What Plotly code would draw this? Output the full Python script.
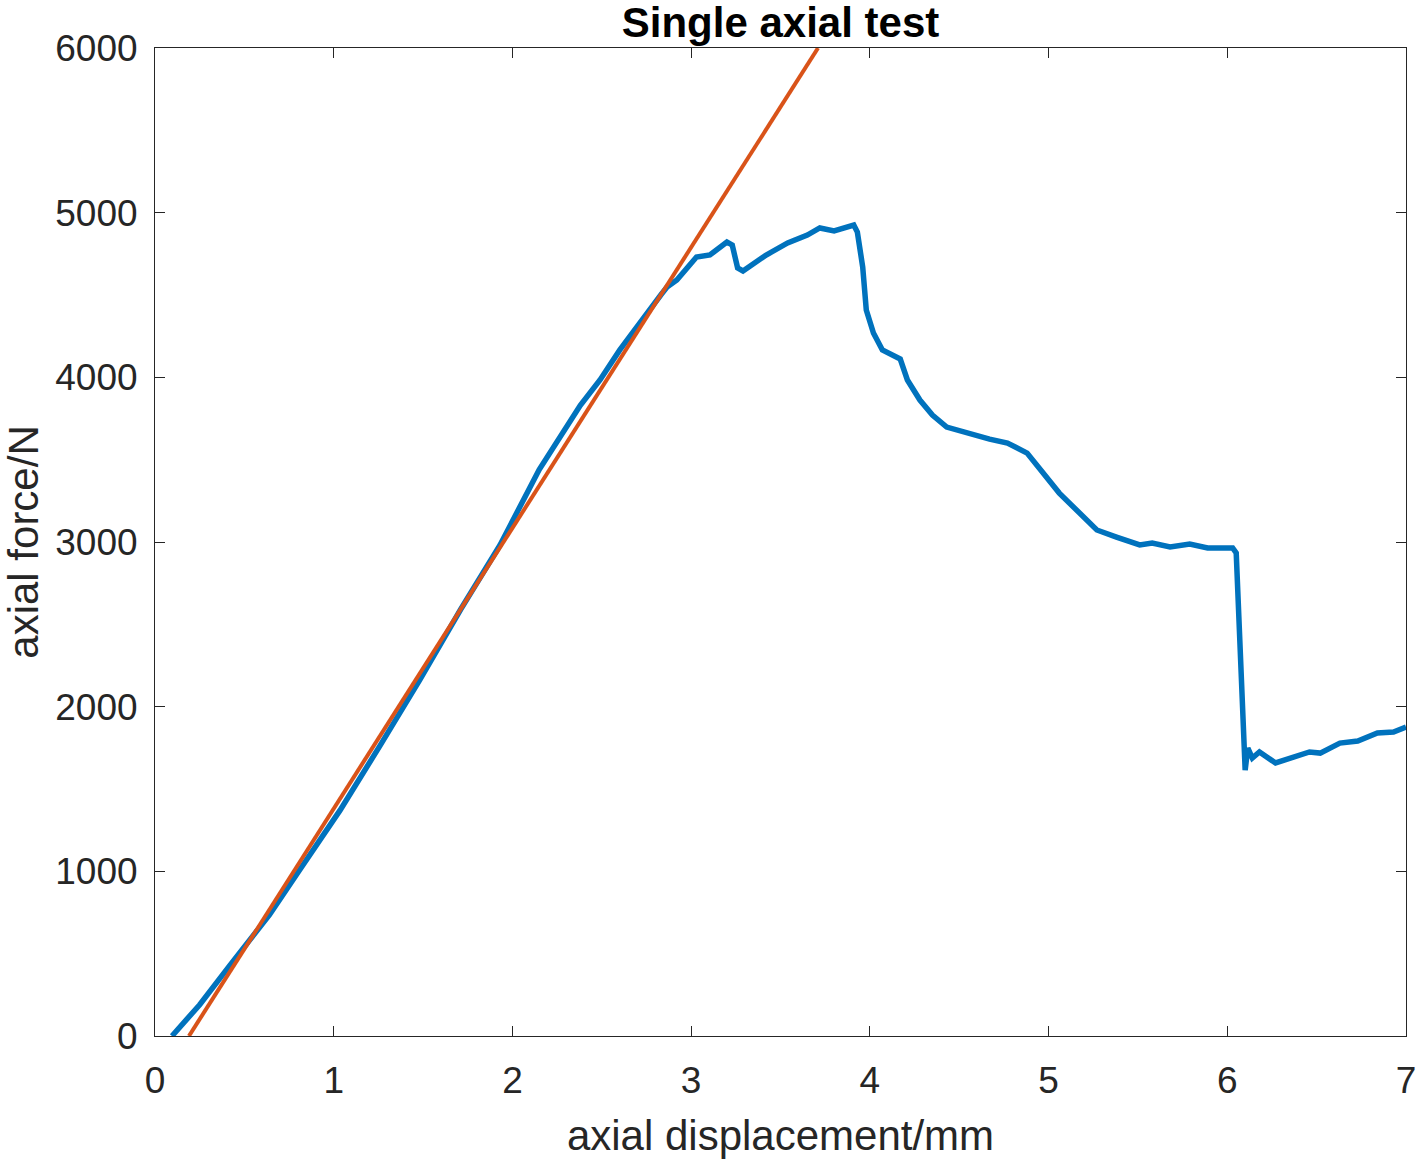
import plotly.graph_objects as go

# Experimental curve (axial displacement in mm, axial force in N)
disp = [0.095, 0.25, 0.42, 0.64, 0.81, 1.035, 1.26, 1.48, 1.71, 1.93, 2.15, 2.38, 2.49, 2.60,
        2.83, 2.865, 2.92, 3.03, 3.105, 3.20, 3.23, 3.26, 3.29, 3.42, 3.54, 3.65, 3.72, 3.80,
        3.91, 3.93, 3.96, 3.98, 4.02, 4.07, 4.17, 4.21, 4.28, 4.35, 4.43, 4.54, 4.67, 4.77,
        4.88, 5.06, 5.19, 5.27, 5.38, 5.51, 5.58, 5.68, 5.79, 5.89, 6.03, 6.05, 6.10, 6.115,
        6.14, 6.18, 6.27, 6.35, 6.46, 6.52, 6.63, 6.73, 6.84, 6.93, 7.0]
force = [0, 190, 430, 735, 1010, 1370, 1765, 2160, 2590, 2980, 3440, 3830, 3984, 4165,
         4500, 4548, 4591, 4731, 4743, 4822, 4803, 4664, 4646, 4743, 4816, 4864, 4907, 4889,
         4925, 4882, 4670, 4409, 4269, 4166, 4111, 3984, 3862, 3771, 3698, 3662, 3625, 3601,
         3540, 3297, 3152, 3073, 3030, 2982, 2994, 2970, 2988, 2964, 2964, 2933, 1615, 1749,
         1688, 1725, 1658, 1688, 1725, 1718, 1779, 1791, 1840, 1846, 1876]

# Linear fit line
fit_disp = [0.19, 3.71]
fit_force = [0, 6000]

x_ticks = [0, 1, 2, 3, 4, 5, 6, 7]
y_ticks = [0, 1000, 2000, 3000, 4000, 5000, 6000]

FONT = "Liberation Sans, Arial, sans-serif"
TXT = "#262626"
AX = "#262626"

fig = go.Figure()
fig.add_trace(go.Scatter(x=disp, y=force, mode="lines",
                         line=dict(color="#0072BD", width=5.5), showlegend=False))
fig.add_trace(go.Scatter(x=fit_disp, y=fit_force, mode="lines",
                         line=dict(color="#D95319", width=4), showlegend=False))

axis_common = dict(showgrid=False, zeroline=False, showline=True, linecolor=AX, linewidth=1,
                   mirror="ticks", ticks="inside", ticklen=10, tickcolor=AX, tickwidth=1,
                   tickfont=dict(family=FONT, size=37, color=TXT))

fig.update_xaxes(range=[0, 7], tickvals=x_ticks, ticktext=[str(v) for v in x_ticks],
                 ticklabelstandoff=12,
                 title=dict(text="axial displacement/mm", font=dict(family=FONT, size=42, color=TXT),
                            standoff=21),
                 **axis_common)
fig.update_yaxes(range=[0, 6000], tickvals=y_ticks, ticktext=[str(v) for v in y_ticks],
                 ticklabelstandoff=9,
                 title=dict(text="axial force/N", font=dict(family=FONT, size=42, color=TXT),
                            standoff=7),
                 **axis_common)

fig.update_layout(
    width=1418, height=1159,
    paper_bgcolor="white", plot_bgcolor="white",
    margin=dict(l=155, r=12, t=48, b=123, autoexpand=False),
    title=dict(text="<b>Single axial test</b>", x=(155 + 1406) / 2 / 1418, xanchor="center",
               y=1 - 22 / 1159, yanchor="middle", yref="container",
               font=dict(family=FONT, size=42, color="black")),
)

fig.write_html("out.html", config={"displayModeBar": False},
               post_script="document.body.style.margin='0';")
